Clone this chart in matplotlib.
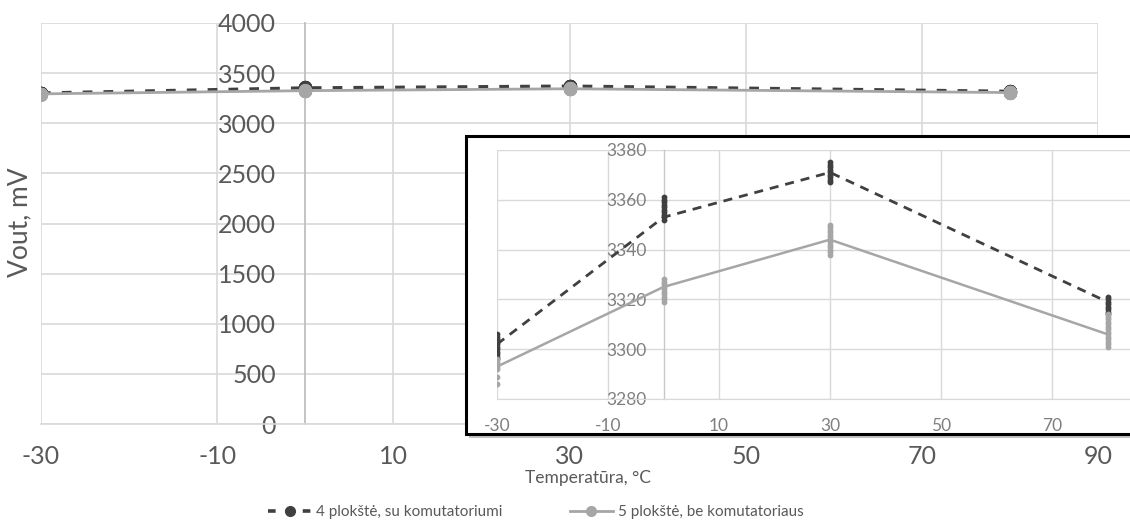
import matplotlib
matplotlib.use("Agg")
import matplotlib.pyplot as plt
from matplotlib.lines import Line2D
from matplotlib.patches import Rectangle

plt.rcParams["font.family"] = ["Lato", "DejaVu Sans"]
plt.rcParams["lines.scale_dashes"] = False
plt.rcParams["axes.unicode_minus"] = False

# Temperatures, °C
temps = [-30, 0, 30, 80]

# Trend values (mV) of both boards
s4_trend = [3302, 3353, 3371, 3319]
s5_trend = [3293, 3325, 3344, 3306]

# Individual readings (mV) at each temperature
s4_readings = [
    [3296, 3297, 3298, 3299, 3300, 3301, 3302, 3303, 3304, 3305, 3306],
    [3352, 3353, 3354, 3355, 3356, 3357, 3358, 3359, 3360, 3361],
    [3367, 3368, 3369, 3370, 3371, 3372, 3373, 3374, 3375],
    [3314, 3315, 3316, 3317, 3318, 3319, 3320, 3321],
]
s5_readings = [
    [3286, 3289, 3292, 3293, 3294, 3295, 3296],
    [3319, 3320, 3321, 3322, 3323, 3324, 3325, 3326, 3327, 3328],
    [3338, 3339, 3340, 3341, 3342, 3343, 3344, 3345, 3346, 3347, 3348, 3349, 3350],
    [3301, 3302, 3303, 3304, 3305, 3306, 3307, 3308, 3309, 3310, 3311, 3312, 3313, 3314],
]

s4_label = "4 plokštė, su komutatoriumi"
s5_label = "5 plokštė, be komutatoriaus"
x_label = "Temperatūra, °C"
y_label = "Vout, mV"

main_xticks = [-30, -10, 10, 30, 50, 70, 90]
main_yticks = [0, 500, 1000, 1500, 2000, 2500, 3000, 3500, 4000]
inset_xticks = [-30, -10, 10, 30, 50, 70]
inset_yticks = [3280, 3300, 3320, 3340, 3360, 3380]

DARK = "#404040"
LIGHT = "#a6a6a6"
GRID = "#d9d9d9"
TEXT = "#595959"

W, H = 1130, 527
fig = plt.figure(figsize=(W / 100, H / 100), dpi=100)


def fbox(left, top, right, bottom):
    return [left / W, 1 - bottom / H, (right - left) / W, (bottom - top) / H]


def draw_series(ax, trend, readings, color, lw, ms, dashes=None, z=3):
    kw = dict(color=color, lw=lw, zorder=z, solid_capstyle="butt")
    if dashes is not None:
        kw.update(ls=(0, dashes), dash_capstyle="butt")
    ax.plot(temps, trend, **kw)
    for t, vals in zip(temps, readings):
        ax.plot([t] * len(vals), vals, ls="none", marker="o", ms=ms,
                mfc=color, mec=color, mew=0, zorder=z + 0.5)


# ---- main chart ----
ax = fig.add_axes(fbox(41, 23, 1098, 424))
ax.set_xlim(-30, 90)
ax.set_ylim(0, 4000)
ax.set_xticks(main_xticks)
ax.set_yticks(main_yticks)
ax.grid(True, color=GRID, lw=1.2)
ax.set_axisbelow(True)
for s in ("top", "right"):
    ax.spines[s].set_visible(False)
ax.spines["left"].set_position(("data", 0))
ax.spines["left"].set_color("#bfbfbf")
ax.spines["left"].set_linewidth(1.3)
ax.spines["bottom"].set_color(GRID)
ax.spines["bottom"].set_linewidth(1.2)
ax.tick_params(axis="both", length=0, labelsize=18, labelcolor=TEXT)
ax.tick_params(axis="y", pad=21)
ax.tick_params(axis="x", pad=15)

draw_series(ax, s4_trend, s4_readings, DARK, 2.3, 9.5, dashes=(7, 8), z=3)
draw_series(ax, s5_trend, s5_readings, LIGHT, 2.0, 9.5, z=4)

fig.text(20 / W, 1 - 222 / H, y_label, rotation=90, ha="center", va="center",
         fontsize=19, color=TEXT)
fig.text(588 / W, 1 - 478 / H, x_label, ha="center", va="center",
         fontsize=12.5, color=TEXT)

# ---- framed zoom panel ----
box_l, box_t, box_r, box_b = 466, 136, 1200, 434
shadow = Rectangle(((box_l + 3) / W, 1 - (box_b + 4) / H),
                   (box_r - box_l) / W, (box_b - box_t) / H,
                   transform=fig.transFigure, facecolor="#9a9a9a",
                   edgecolor="none", alpha=0.6, zorder=1)
frame = Rectangle((box_l / W, 1 - box_b / H), (box_r - box_l) / W,
                  (box_b - box_t) / H, transform=fig.transFigure,
                  facecolor="white", edgecolor="black", lw=2.2, zorder=1.5)
fig.patches.extend([shadow, frame])

ins = fig.add_axes(fbox(497, 150, 1163, 399), zorder=2)
ins.set_facecolor("none")
ins.set_xlim(-30, 90)
ins.set_ylim(3280, 3380)
ins.set_xticks(inset_xticks)
ins.set_yticks(inset_yticks)
ins.grid(True, color=GRID, lw=1.0)
ins.set_axisbelow(True)
for s in ("top", "right"):
    ins.spines[s].set_visible(False)
ins.spines["left"].set_position(("data", 0))
ins.spines["left"].set_color("#c8c8c8")
ins.spines["left"].set_linewidth(1.0)
ins.spines["bottom"].set_color(GRID)
ins.tick_params(axis="both", length=0, labelsize=12.5, labelcolor="#7f7f7f")
ins.tick_params(axis="y", pad=12)
ins.tick_params(axis="x", pad=14)

draw_series(ins, s4_trend, s4_readings, DARK, 2.0, 4.2, dashes=(6.5, 5), z=3)
draw_series(ins, s5_trend, s5_readings, LIGHT, 1.8, 4.2, z=4)

# ---- legend ----
handles = [
    Line2D([], [], color=DARK, lw=2.6, ls=(0, (5.5, 7)), marker="o", ms=7,
           mfc=DARK, mec=DARK),
    Line2D([], [], color=LIGHT, lw=2.0, marker="o", ms=7,
           mfc=LIGHT, mec=LIGHT),
]
fig.legend(handles, [s4_label, s5_label], loc="center",
           bbox_to_anchor=(536 / W, 1 - 512 / H), ncol=2, frameon=False,
           fontsize=11, labelcolor=TEXT,
           handlelength=2.8, handletextpad=0.35, columnspacing=4.4)

fig.savefig("out.png", dpi=100)
